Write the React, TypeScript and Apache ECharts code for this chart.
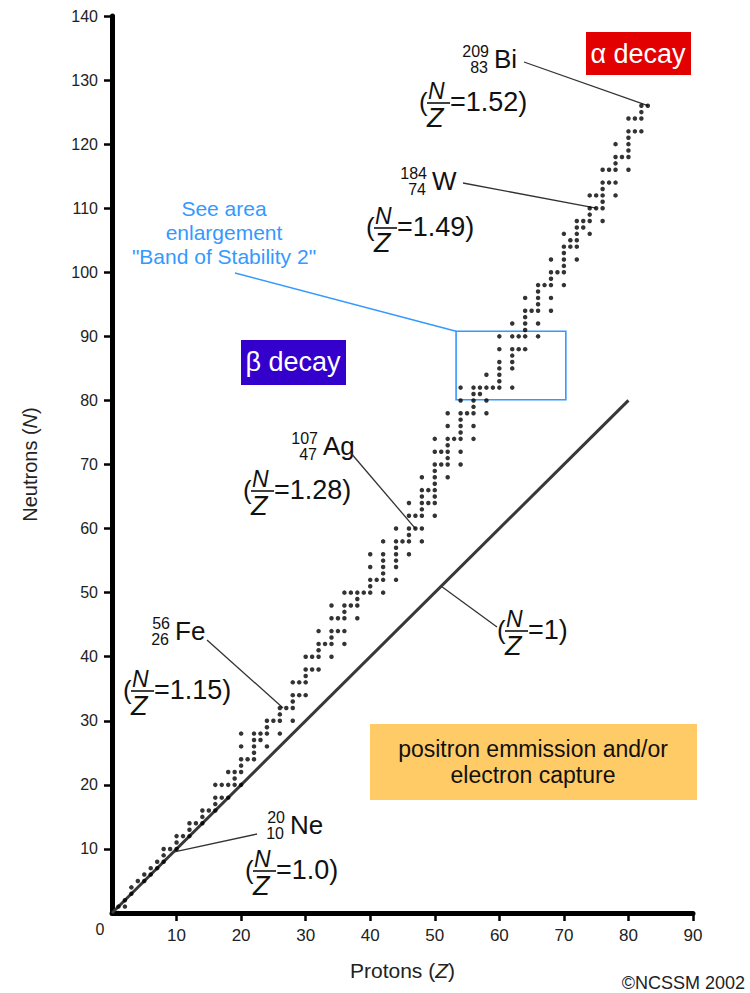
import React, { useEffect, useRef } from "react";
import * as echarts from "echarts";

// ---- Data: stable nuclides (proton number Z and the neutron numbers N of its stable isotopes)
const protonNumbers = [
  1, 2, 3, 4, 5, 6, 7, 8, 9, 10, 11, 12, 13, 14, 15, 16, 17, 18, 19, 20, 21, 22, 23, 24, 25, 26, 27, 28, 29, 30,
  31, 32, 33, 34, 35, 36, 37, 38, 39, 40, 41, 42, 44, 45, 46, 47, 48, 49, 50, 51, 52, 53, 54, 55, 56, 57, 58, 59,
  60, 62, 63, 64, 65, 66, 67, 68, 69, 70, 71, 72, 73, 74, 75, 76, 77, 78, 79, 80, 81, 82, 83,
];
const stableNeutrons = [
  [0, 1], [1, 2], [3, 4], [5], [5, 6], [6, 7], [7, 8], [8, 9, 10], [10], [10, 11, 12],
  [12], [12, 13, 14], [14], [14, 15, 16], [16], [16, 17, 18, 20], [18, 20], [18, 20, 22], [20, 21, 22],
  [20, 22, 23, 24, 26, 28], [24], [24, 25, 26, 27, 28], [27, 28], [26, 28, 29, 30], [30], [28, 30, 31, 32],
  [32], [30, 32, 33, 34, 36], [34, 36], [34, 36, 37, 38, 40], [38, 40], [38, 40, 41, 42, 44], [42],
  [40, 42, 43, 44, 46, 48], [44, 46], [42, 44, 46, 47, 48, 50], [48, 50], [46, 48, 49, 50], [50],
  [50, 51, 52, 54, 56], [52], [50, 52, 53, 54, 55, 56, 58], [52, 54, 55, 56, 57, 58, 60], [58],
  [56, 58, 59, 60, 62, 64], [60, 62], [58, 60, 62, 63, 64, 65, 66, 68], [64, 66],
  [62, 64, 65, 66, 67, 68, 69, 70, 72, 74], [70, 72], [68, 70, 71, 72, 73, 74, 76, 78], [74],
  [70, 72, 74, 75, 76, 77, 78, 80, 82], [78], [74, 76, 78, 79, 80, 81, 82], [81, 82], [78, 80, 82, 84], [82],
  [82, 83, 84, 85, 86, 88, 90], [82, 85, 86, 87, 88, 90, 92], [88, 90], [88, 90, 91, 92, 93, 94, 96], [94],
  [90, 92, 94, 95, 96, 97, 98], [98], [94, 96, 98, 99, 100, 102], [100], [98, 100, 101, 102, 103, 104, 106],
  [104, 105], [102, 104, 105, 106, 107, 108], [107, 108], [106, 108, 109, 110, 112], [110, 112],
  [108, 110, 111, 112, 113, 114, 116], [114, 116], [112, 114, 116, 117, 118, 120], [118],
  [116, 118, 119, 120, 121, 122, 124], [122, 124], [122, 124, 125, 126], [126],
];

// N = Z reference line
const equalLineZ = [0, 80];
const equalLineN = [0, 80];

// Axis ticks
const xTicks = [0, 10, 20, 30, 40, 50, 60, 70, 80, 90];
const yTicks = [0, 10, 20, 30, 40, 50, 60, 70, 80, 90, 100, 110, 120, 130, 140];

// Labelled nuclides: mass number, Z, symbol, N/Z text, point the leader targets (Z, N)
const labelMass = ["209", "184", "107", "56", "20"];
const labelZ = ["83", "74", "47", "26", "10"];
const labelSymbol = ["Bi", "W", "Ag", "Fe", "Ne"];
const labelRatio = ["=1.52)", "=1.49)", "=1.28)", "=1.15)", "=1.0)"];
const labelTargetZ = [83, 75, 47, 26.5, 9.5];
const labelTargetN = [126, 110, 60, 32, 9.5];

// enlargement box in data units
const boxZ = [53.3, 70.3];
const boxN = [80.1, 90.8];

const FONT = "'Liberation Sans', Arial, Helvetica, sans-serif";

function txt(x: number, y: number, text: string, size: number, extra: any = {}) {
  return {
    type: "text",
    x,
    y,
    silent: true,
    style: {
      text,
      fontSize: size,
      fontFamily: FONT,
      fill: "#111",
      align: "left",
      verticalAlign: "middle",
      ...extra,
    },
  };
}

function fraction(x0: number, cy: number, rest: string) {
  return [
    txt(x0, cy, "(", 26),
    txt(x0 + 9, cy - 11, "N", 23, { fontStyle: "italic" }),
    {
      type: "line",
      silent: true,
      shape: { x1: x0 + 8, y1: cy + 1, x2: x0 + 31, y2: cy + 1 },
      style: { stroke: "#111", lineWidth: 1.6 },
    },
    txt(x0 + 8, cy + 16, "Z", 27, { fontStyle: "italic" }),
    txt(x0 + 31, cy, rest, 27),
  ];
}

function nuclide(xr: number, yTop: number, mass: string, z: string, sym: string) {
  return [
    txt(xr, yTop, mass, 16, { align: "right" }),
    txt(xr - 1, yTop + 16, z, 16, { align: "right" }),
    txt(xr + 5, yTop + 8, sym, 26),
  ];
}

function leader(x1: number, y1: number, p: number[], color = "#333", w = 1.3) {
  return {
    type: "line",
    silent: true,
    shape: { x1, y1, x2: p[0], y2: p[1] },
    style: { stroke: color, lineWidth: w },
  };
}

export default function App() {
  const ref = useRef<HTMLDivElement>(null);

  useEffect(() => {
    document.body.style.margin = "0";
    if (!ref.current) return;
    const chart = echarts.init(ref.current, null, { renderer: "svg" });

    const points: number[][] = [];
    protonNumbers.forEach((z, i) => {
      stableNeutrons[i].forEach((n) => points.push([z, n]));
    });
    const lineData = equalLineZ.map((z, i) => [z, equalLineN[i]]);

    const axisCommon = {
      type: "value",
      axisLine: { show: true, onZero: false, lineStyle: { color: "#000", width: 5 } },
      axisTick: { show: true, length: 8, lineStyle: { color: "#000", width: 2.5 } },
      splitLine: { show: false },
      axisLabel: { fontSize: 16, color: "#222", fontFamily: FONT, showMinLabel: false },
    };

    chart.setOption({
      animation: false,
      backgroundColor: "#fff",
      grid: { left: 112, right: 57, top: 16, bottom: 80, containLabel: false },
      xAxis: {
        ...axisCommon,
        min: xTicks[0],
        max: xTicks[xTicks.length - 1],
        interval: xTicks[1] - xTicks[0],
        axisLabel: { ...axisCommon.axisLabel, fontSize: 17, margin: 14 },
        name: "{a|Protons (}{b|Z}{a|)}",
        nameLocation: "middle",
        nameGap: 47,
        nameTextStyle: {
          rich: {
            a: { fontSize: 21, fontFamily: FONT, color: "#222" },
            b: { fontSize: 21, fontFamily: FONT, color: "#222", fontStyle: "italic" },
          },
        },
      },
      yAxis: {
        ...axisCommon,
        min: yTicks[0],
        max: yTicks[yTicks.length - 1],
        interval: yTicks[1] - yTicks[0],
        axisLabel: { ...axisCommon.axisLabel, margin: 14 },
        name: "{a|Neutrons (}{b|N}{a|)}",
        nameLocation: "middle",
        nameRotate: 90,
        nameGap: 72,
        nameTextStyle: {
          rich: {
            a: { fontSize: 20, fontFamily: FONT, color: "#222" },
            b: { fontSize: 20, fontFamily: FONT, color: "#222", fontStyle: "italic" },
          },
        },
      },
      series: [
        {
          type: "line",
          data: lineData,
          symbol: "none",
          lineStyle: { color: "#383838", width: 3 },
          z: 2,
          silent: true,
        },
        {
          type: "scatter",
          data: points,
          symbol: "circle",
          symbolSize: 4.5,
          itemStyle: { color: "#000" },
          z: 3,
          silent: true,
        },
      ],
    });

    const px = (z: number, n: number) => chart.convertToPixel({ gridIndex: 0 }, [z, n]) as number[];
    const targets = labelTargetZ.map((z, i) => px(z, labelTargetN[i]));
    const boxTL = px(boxZ[0], boxN[1]);
    const boxBR = px(boxZ[1], boxN[0]);
    const eqPt = px(51, 51);

    // label layout: [nuclide right x, nuclide top y, leader start x, leader start y, fraction x, fraction cy]
    const layout = [
      [489, 51, 524, 62, 419, 102],
      [427, 173, 463, 183, 366, 227],
      [318, 438, 350, 452, 243, 490],
      [170, 623, 207, 640, 123, 690],
      [285, 817, 257, 834, 245, 870],
    ];

    const elements: any[] = [];
    layout.forEach((L, i) => {
      elements.push(...nuclide(L[0], L[1], labelMass[i], labelZ[i], labelSymbol[i]));
      elements.push(leader(L[2], L[3], targets[i]));
      elements.push(...fraction(L[4], L[5], labelRatio[i]));
    });
    // N/Z = 1 label
    elements.push(leader(497, 627, eqPt));
    elements.push(...fraction(497, 630, "=1)"));

    // alpha decay box
    elements.push({ type: "rect", silent: true, shape: { x: 586, y: 32, width: 105, height: 43 }, style: { fill: "#e30000" } });
    elements.push(txt(638, 54, "α decay", 27, { fill: "#fff", align: "center" }));
    // beta decay box
    elements.push({ type: "rect", silent: true, shape: { x: 241, y: 340, width: 105, height: 45 }, style: { fill: "#3300cc" } });
    elements.push(txt(293, 362, "β decay", 27, { fill: "#fff", align: "center" }));
    // positron box
    elements.push({ type: "rect", silent: true, shape: { x: 370, y: 724, width: 327, height: 76 }, style: { fill: "#ffcb66" } });
    elements.push(
      txt(533, 762, "positron emmission and/or\nelectron capture", 23, { align: "center", lineHeight: 26, fill: "#111" })
    );
    // enlargement note
    elements.push(
      txt(224, 232, 'See area\nenlargement\n"Band of Stability 2"', 21, {
        align: "center",
        lineHeight: 24,
        fill: "#3399ff",
      })
    );
    elements.push(leader(235, 273, boxTL, "#3399ff", 1.5));
    elements.push({
      type: "rect",
      silent: true,
      shape: { x: boxTL[0], y: boxTL[1], width: boxBR[0] - boxTL[0], height: boxBR[1] - boxTL[1] },
      style: { fill: "none", stroke: "#3399ff", lineWidth: 1.6 },
    });
    // origin label and copyright
    elements.push(txt(100, 929, "0", 16, { fill: "#222", align: "center" }));
    elements.push(txt(745, 983, "©NCSSM 2002", 18, { fill: "#222", align: "right" }));

    chart.setOption({ graphic: { elements } });

    return () => chart.dispose();
  }, []);

  return <div ref={ref} style={{ width: 750, height: 993 }} />;
}
